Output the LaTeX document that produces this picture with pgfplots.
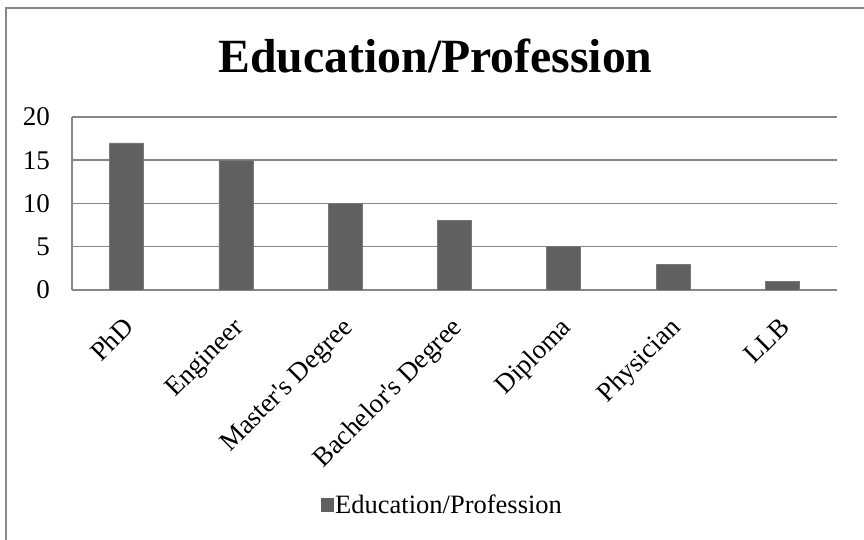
\documentclass[border=0pt]{standalone}
\usepackage{pgfplots}
\pgfplotsset{compat=1.18}
\usepackage{fontspec}
\setmainfont{Liberation Serif}[Ligatures=TeXOff]
\definecolor{barc}{RGB}{96,96,96}
\definecolor{baredge}{RGB}{120,120,120}
\definecolor{gridc}{RGB}{134,134,134}
\definecolor{framec}{RGB}{136,136,136}
\begin{document}
\begin{tikzpicture}[x=1bp,y=1bp]
\useasboundingbox (0,0) rectangle (864,540);
\draw[framec, line width=2bp] (5.5,0) -- (5.5,532) -- (864,532);
\node[anchor=base, inner sep=0] at (435.5,467) {\fontsize{47.7bp}{56bp}\selectfont\bfseries Education/Profession};
\begin{axis}[
  at={(72bp,250bp)}, anchor=south west,
  scale only axis, width=765bp, height=173bp,
  xmin=-0.5, xmax=6.5, ymin=0, ymax=20,
  ytick={0,5,10,15,20},
  xtick=data,
  xticklabels={PhD,Engineer,Master's Degree,Bachelor's Degree,Diploma,Physician,LLB},
  major tick length=0pt,
  axis x line*=bottom, axis y line*=left,
  axis line style={gridc, line width=1.5bp, -},
  ymajorgrids, grid style={gridc, line width=1.5bp},
  /pgf/number format/assume math mode=true,
  tick label style={font=\fontsize{27bp}{30bp}\selectfont},
  yticklabel style={anchor=east, inner sep=0pt, xshift=-22bp},
  xticklabel style={xshift=7bp, yshift=-37bp, rotate=45, anchor=east, inner sep=0pt, text height=0.7em, text depth=0.2em},
  ybar, bar width=34bp,
  legend style={at={(0.484,-1.243)}, anchor=center, draw=none, fill=none,
    font=\fontsize{26.5bp}{30bp}\selectfont, inner sep=0pt,
    legend cell align=left},
  legend image code/.code={\fill[barc] (0bp,-6.5bp) rectangle (12bp,6.5bp);},
]
\addplot[fill=barc, draw=baredge, line width=0.6bp] coordinates {(0,17) (1,15) (2,10) (3,8) (4,5) (5,3) (6,1)};
\addlegendentry{Education/Profession}
\end{axis}
\end{tikzpicture}
\end{document}
